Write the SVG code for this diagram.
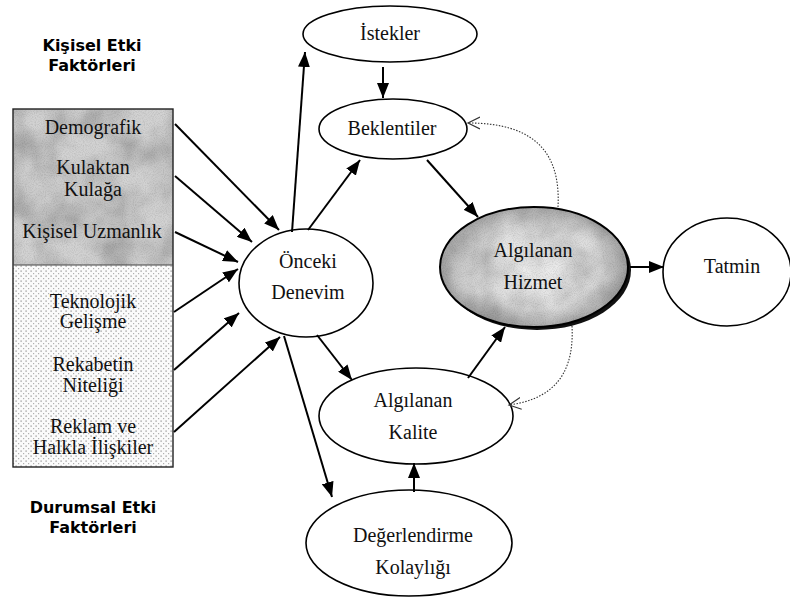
<svg xmlns="http://www.w3.org/2000/svg" width="790" height="601" viewBox="0 0 790 601">
  <style>
    .lbl { font-family: "Liberation Serif", "Times New Roman", serif; font-size: 20px; fill: #111; text-anchor: middle; }
    .ttl { font-family: "DejaVu Sans", Verdana, sans-serif; font-size: 16px; font-weight: bold; fill: #000; text-anchor: middle; }
    .node { fill: #fff; stroke: #000; stroke-width: 1.6; }
    .arr { fill: none; stroke: #000; stroke-width: 2; marker-end: url(#head); }
    .fb { fill: none; stroke: #333; stroke-width: 1.1; stroke-dasharray: 1.5 1.5; marker-end: url(#open); }
  </style>
  <defs>
    <marker id="head" markerUnits="userSpaceOnUse" markerWidth="16" markerHeight="12" refX="15" refY="6" orient="auto">
      <path d="M0,0 L15,6 L0,12 z" fill="#000"/>
    </marker>
    <marker id="open" markerUnits="userSpaceOnUse" markerWidth="14" markerHeight="14" refX="12" refY="7" orient="auto">
      <path d="M0,1 L12,7 L0,13" fill="none" stroke="#333" stroke-width="1.2"/>
    </marker>
    <!-- mottled grey texture for shaded areas -->
    <filter id="mottle" x="0" y="0" width="100%" height="100%">
      <feTurbulence type="fractalNoise" baseFrequency="0.03" numOctaves="3" seed="4" result="low"/>
      <feColorMatrix in="low" type="matrix" values="0.7 0 0 0 0.5  0.7 0 0 0 0.5  0.7 0 0 0 0.5  0 0 0 0 1" result="lowg"/>
      <feTurbulence type="fractalNoise" baseFrequency="0.9" numOctaves="1" seed="9" result="grain"/>
      <feColorMatrix in="grain" type="matrix" values="0.5 0 0 0 0.7  0.5 0 0 0 0.7  0.5 0 0 0 0.7  0 0 0 0 1" result="graing"/>
      <feBlend in="lowg" in2="graing" mode="multiply" result="tex"/>
      <feBlend in="tex" in2="SourceGraphic" mode="multiply" result="mix"/>
      <feComposite in="mix" in2="SourceGraphic" operator="in"/>
    </filter>
    <pattern id="dots" width="5" height="5" patternUnits="userSpaceOnUse">
      <rect width="5" height="5" fill="#fbfbfb"/>
      <rect x="0.5" y="0.5" width="1.2" height="1.2" fill="#8a8a8a"/>
      <rect x="3" y="3" width="1.2" height="1.2" fill="#b0b0b0"/>
    </pattern>
    <radialGradient id="hz" cx="0.5" cy="0.5" r="0.55">
      <stop offset="0" stop-color="#f2f2f2"/>
      <stop offset="0.65" stop-color="#dddddd"/>
      <stop offset="1" stop-color="#9c9c9c"/>
    </radialGradient>
  </defs>

  <!-- group titles -->
  <g id="title-personal">
    <text class="ttl" x="92" y="51">Kişisel Etki</text>
    <text class="ttl" x="92" y="71">Faktörleri</text>
  </g>
  <g id="title-situational">
    <text class="ttl" x="93" y="513">Durumsal Etki</text>
    <text class="ttl" x="93" y="533">Faktörleri</text>
  </g>

  <!-- factor box -->
  <g id="factors">
    <rect x="13" y="109" width="160" height="156" fill="#d2d2d2" filter="url(#mottle)"/>
    <rect x="13" y="265" width="160" height="202" fill="url(#dots)"/>
    <rect x="13" y="109" width="160" height="358" fill="none" stroke="#222" stroke-width="1.4"/>
    <line x1="13" y1="265" x2="173" y2="265" stroke="#444" stroke-width="1.2"/>
    <text class="lbl" x="93" y="134">Demografik</text>
    <text class="lbl" x="93" y="174">Kulaktan</text>
    <text class="lbl" x="93" y="196">Kulağa</text>
    <text class="lbl" x="92" y="238">Kişisel Uzmanlık</text>
    <text class="lbl" x="93" y="308">Teknolojik</text>
    <text class="lbl" x="93" y="328">Gelişme</text>
    <text class="lbl" x="93" y="371">Rekabetin</text>
    <text class="lbl" x="93" y="392">Niteliği</text>
    <text class="lbl" x="93" y="433">Reklam ve</text>
    <text class="lbl" x="93" y="454">Halkla İlişkiler</text>
  </g>

  <g id="onceki">
    <ellipse class="node" cx="306" cy="283" rx="67" ry="54"/>
    <text class="lbl" x="308" y="268">Önceki</text>
    <text class="lbl" x="308" y="299">Denevim</text>
  </g>
  <g id="istekler">
    <ellipse class="node" cx="390" cy="34" rx="87" ry="28"/>
    <text class="lbl" x="390" y="40">İstekler</text>
  </g>
  <g id="beklentiler">
    <ellipse class="node" cx="393" cy="129" rx="74" ry="30"/>
    <text class="lbl" x="392" y="135">Beklentiler</text>
  </g>
  <g id="hizmet">
    <ellipse cx="537" cy="270" rx="94" ry="60" fill="#111"/>
    <ellipse cx="534" cy="267" rx="94" ry="60" fill="url(#hz)" filter="url(#mottle)"/>
    <ellipse cx="534" cy="267" rx="94" ry="60" fill="none" stroke="#000" stroke-width="2"/>
    <text class="lbl" x="533" y="257">Algılanan</text>
    <text class="lbl" x="533" y="289">Hizmet</text>
  </g>
  <g id="tatmin">
    <ellipse class="node" cx="727" cy="272" rx="64" ry="54"/>
    <text class="lbl" x="732" y="273">Tatmin</text>
  </g>
  <g id="kalite">
    <ellipse class="node" cx="416" cy="416" rx="97" ry="48"/>
    <text class="lbl" x="413" y="407">Algılanan</text>
    <text class="lbl" x="413" y="439">Kalite</text>
  </g>
  <g id="degerlendirme">
    <ellipse class="node" cx="409" cy="543" rx="103" ry="53"/>
    <text class="lbl" x="413" y="542">Değerlendirme</text>
    <text class="lbl" x="413" y="574">Kolaylığı</text>
  </g>

  <g id="connectors">
    <line class="arr" x1="175" y1="124" x2="279" y2="230"/>
    <line class="arr" x1="175" y1="176" x2="252" y2="242"/>
    <line class="arr" x1="175" y1="232" x2="238" y2="262"/>
    <line class="arr" x1="174" y1="312" x2="238" y2="269"/>
    <line class="arr" x1="174" y1="370" x2="239" y2="313"/>
    <line class="arr" x1="174" y1="432" x2="280" y2="337"/>
    <line class="arr" x1="292" y1="232" x2="305" y2="52"/>
    <line class="arr" x1="308" y1="230" x2="360" y2="160"/>
    <line class="arr" x1="383" y1="67" x2="383" y2="98"/>
    <line class="arr" x1="427" y1="160" x2="478" y2="217"/>
    <line class="arr" x1="630" y1="267" x2="664" y2="267"/>
    <line class="arr" x1="468" y1="378" x2="505" y2="327"/>
    <line class="arr" x1="317" y1="335" x2="352" y2="380"/>
    <line class="arr" x1="284" y1="336" x2="332" y2="497"/>
    <line class="arr" x1="414" y1="492" x2="414" y2="463"/>
    <path class="fb" d="M558,207 C561,150 532,123 468,123"/>
    <path class="fb" d="M572,326 C575,382 545,400 509,405"/>
  </g>
</svg>
